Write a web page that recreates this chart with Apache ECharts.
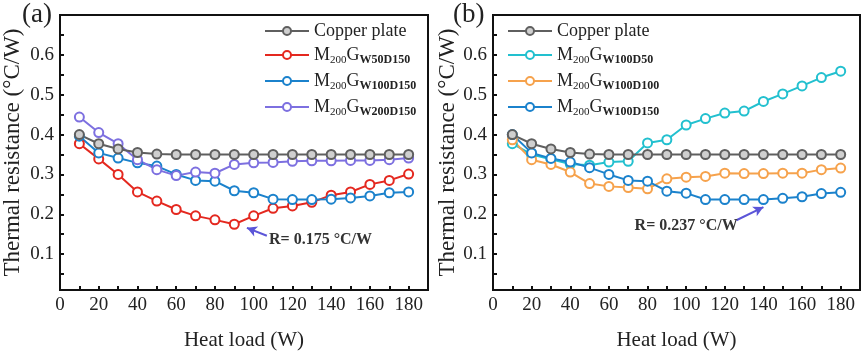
<!DOCTYPE html>
<html>
<head>
<meta charset="utf-8">
<script src="https://cdn.jsdelivr.net/npm/echarts@6/dist/echarts.min.js"></script>
<style>
html,body{margin:0;padding:0;background:#fff;}
#chart{width:865px;height:356px;}
</style>
</head>
<body>
<div id="chart"></div>
<script>
// ---------- data ----------
const heatLoad = [10,20,30,40,50,60,70,80,90,100,110,120,130,140,150,160,170,180];

const copperA   = [0.400,0.377,0.364,0.355,0.351,0.350,0.350,0.350,0.350,0.350,0.350,0.350,0.350,0.350,0.350,0.350,0.350,0.350];
const w50d150   = [0.377,0.339,0.300,0.256,0.233,0.212,0.196,0.186,0.175,0.196,0.215,0.221,0.230,0.248,0.256,0.275,0.285,0.301];
const w100d150A = [0.396,0.354,0.341,0.329,0.321,0.300,0.285,0.283,0.259,0.254,0.238,0.237,0.237,0.238,0.241,0.246,0.254,0.256];
const w200d150  = [0.444,0.405,0.377,0.337,0.312,0.297,0.306,0.303,0.325,0.329,0.330,0.333,0.334,0.334,0.335,0.335,0.337,0.341];

const copperB   = [0.400,0.377,0.364,0.355,0.351,0.350,0.350,0.350,0.350,0.350,0.350,0.350,0.350,0.350,0.350,0.350,0.350,0.350];
const w100d50   = [0.377,0.350,0.338,0.326,0.323,0.331,0.333,0.379,0.387,0.424,0.440,0.454,0.459,0.483,0.502,0.522,0.543,0.559];
const w100d100  = [0.387,0.337,0.325,0.306,0.277,0.270,0.267,0.264,0.289,0.293,0.295,0.303,0.302,0.302,0.303,0.303,0.312,0.316];
const w100d150B = [0.400,0.354,0.340,0.331,0.317,0.300,0.285,0.283,0.258,0.253,0.237,0.237,0.237,0.237,0.240,0.244,0.252,0.255];

const xLabelValues = [0,20,40,60,80,100,120,140,160,180];
const xTickValues  = [0,10,20,30,40,50,60,70,80,90,100,110,120,130,140,150,160,170,180];
const yLabelValues = [0.1,0.2,0.3,0.4,0.5,0.6];
const yTickValues  = [0.05,0.1,0.15,0.2,0.25,0.3,0.35,0.4,0.45,0.5,0.55,0.6,0.65];

const namesA = ['Copper plate','M200GW50D150','M200GW100D150','M200GW200D150'];
const namesB = ['Copper plate','M200GW100D50','M200GW100D100','M200GW100D150'];

// annotation anchors (data coordinates)
const arrowA = [[106.8,0.146],[96.5,0.166]];
const textA  = [134.5,0.135];
const labelA = 'R= 0.175 °C/W';
const arrowB = [[126,0.185],[140,0.218]];
const textB  = [100,0.171];
const labelB = 'R= 0.237 °C/W';

// ---------- chart ----------
const SERIF = '"Liberation Serif","Times New Roman",serif';
const colors = {
  copper:'#5f5f5f', red:'#e4281f', blue:'#1b82cc', purple:'#7d70e0',
  cyan:'#22c0cf', orange:'#f6a24c'
};

function richName(n){
  if (n === 'Copper plate') return '{t|Copper plate}';
  const m = n.match(/^M(\d+)G(.+)$/);
  return '{t|M}{a|' + m[1] + '}{t|G}{b|' + m[2] + '}';
}
const legendRich = {
  t:{fontFamily:SERIF,fontSize:18,lineHeight:22,color:'#222'},
  a:{fontFamily:SERIF,fontSize:11,lineHeight:7,verticalAlign:'bottom',color:'#222'},
  b:{fontFamily:SERIF,fontSize:12,lineHeight:11,verticalAlign:'bottom',color:'#222',fontWeight:'bold'}
};

function xAxis(g){
  return {
    type:'value', gridIndex:g, min:0, max:190,
    axisLine:{show:true,lineStyle:{color:'#111',width:2}},
    axisTick:{show:true,inside:true,length:4,customValues:xTickValues,lineStyle:{color:'#111',width:2}},
    axisLabel:{customValues:xLabelValues,fontFamily:SERIF,fontSize:19,color:'#222',margin:6},
    splitLine:{show:false},
    name:'Heat load (W)', nameLocation:'middle', nameGap:40,
    nameTextStyle:{fontFamily:SERIF,fontSize:21,color:'#222'}
  };
}
function yAxis(g, gap){
  return {
    type:'value', gridIndex:g, min:0.01, max:0.7,
    axisLine:{show:true,lineStyle:{color:'#111',width:2}},
    axisTick:{show:true,inside:true,length:4,customValues:yTickValues,lineStyle:{color:'#111',width:2}},
    axisLabel:{customValues:yLabelValues,formatter:v=>v.toFixed(1),fontFamily:SERIF,fontSize:19,color:'#222',margin:6},
    splitLine:{show:false},
    name:'Thermal resistance (°C/W)', nameLocation:'middle', nameGap:gap,
    nameTextStyle:{fontFamily:SERIF,fontSize:23,color:'#222'}
  };
}
function line(name, data, color, g, fill, extra){
  const s = {
    name, type:'line', xAxisIndex:g, yAxisIndex:g,
    data: heatLoad.map((x,i)=>[x,data[i]]),
    symbol:'circle', symbolSize:9, showAllSymbol:true,
    lineStyle:{color, width:2},
    itemStyle:{color:fill||'#fff', borderColor:color, borderWidth:2},
    emphasis:{disabled:true}
  };
  return Object.assign(s, extra||{});
}
function annot(arrow, pos, text){
  return {
    markLine:{
      silent:true, symbol:['none','arrow'], symbolSize:[8,10],
      lineStyle:{color:'#5b55d8',width:2,type:'solid'},
      label:{show:false},
      data:[[{coord:arrow[0]},{coord:arrow[1]}]]
    },
    markPoint:{
      silent:true, symbol:'circle', symbolSize:0,
      data:[{coord:pos}],
      label:{show:true,position:'inside',formatter:text,fontFamily:SERIF,fontWeight:'bold',fontSize:16,color:'#333'}
    }
  };
}

const chart = echarts.init(document.getElementById('chart'), null, {renderer:'canvas'});
chart.setOption({
  animation:false,
  backgroundColor:'#fff',
  title:[
    {text:'(a)',left:17,top:-4,textStyle:{fontFamily:SERIF,fontSize:27,fontWeight:'normal',color:'#222'}},
    {text:'(b)',left:448,top:-4,textStyle:{fontFamily:SERIF,fontSize:27,fontWeight:'normal',color:'#222'}}
  ],
  grid:[
    {left:60,top:15,width:368,height:281,show:true,borderColor:'#111',borderWidth:2,backgroundColor:'transparent'},
    {left:493,top:15,width:367,height:280,show:true,borderColor:'#111',borderWidth:2,backgroundColor:'transparent'}
  ],
  xAxis:[xAxis(0), xAxis(1)],
  yAxis:[yAxis(0,36), yAxis(1,33)],
  legend:[
    {data:namesA, orient:'vertical', left:259, top:17, itemWidth:44, itemHeight:10, itemGap:6,
     formatter:richName, textStyle:{rich:legendRich}, selectedMode:false},
    {data:namesB, orient:'vertical', left:502, top:17, itemWidth:44, itemHeight:10, itemGap:6,
     formatter:richName, textStyle:{rich:legendRich}, selectedMode:false}
  ],
  series:[
    line(namesA[1], w50d150, colors.red, 0, null, annot(arrowA, textA, labelA)),
    line(namesA[2], w100d150A, colors.blue, 0),
    line(namesA[3], w200d150, colors.purple, 0),
    line(namesA[0], copperA, colors.copper, 0, '#cfcfcf'),
    line(namesB[1], w100d50, colors.cyan, 1),
    line(namesB[2], w100d100, colors.orange, 1),
    line(namesB[3], w100d150B, colors.blue, 1, null, annot(arrowB, textB, labelB)),
    line(namesB[0], copperB, colors.copper, 1, '#cfcfcf')
  ]
});
</script>
</body>
</html>
